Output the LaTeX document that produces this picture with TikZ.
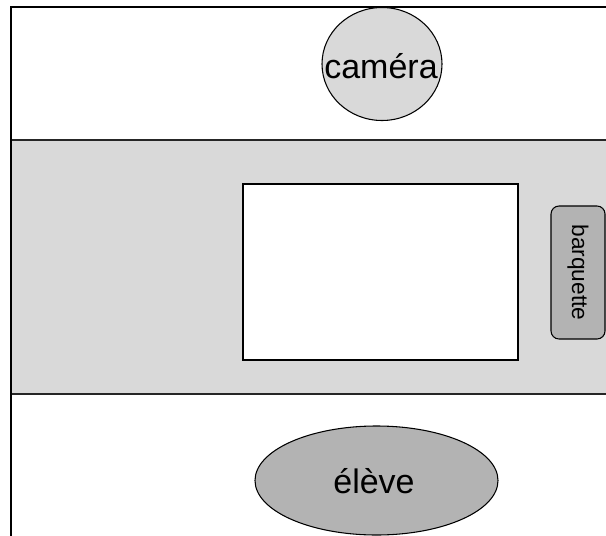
\documentclass[tikz,border=0pt]{standalone}
\usepackage{fontspec}
\setmainfont{Liberation Sans}
\usetikzlibrary{shapes.geometric}
\definecolor{lightg}{HTML}{D9D9D9}
\definecolor{midg}{HTML}{B3B3B3}
\begin{document}
\begin{tikzpicture}[x=0.75pt,y=-0.75pt,
  frameline/.style={line width=1.9pt,black},
  band/.style={fill=lightg,draw=black!85,line width=1.1pt},
  blob/.style={ellipse,draw=black,line width=0.8pt,inner sep=0pt,font=\fontsize{25.5}{28}\selectfont},
  tray/.style={rounded corners=6pt,draw=black,line width=0.8pt,fill=midg,inner sep=0pt,font=\fontsize{17}{19}\selectfont}]
\useasboundingbox (0,0) rectangle (606,535);
% band
\path[band] (11,140) rectangle (608,394);
% white area
\node[draw=black,line width=1.4pt,fill=white,minimum width=275*0.75pt,minimum height=176*0.75pt,inner sep=0pt] (screen) at (380.5,272) {};
% barquette
\node[tray,minimum width=54*0.75pt,minimum height=133*0.75pt] (barq) at (578,272.5) {};
\node[font=\fontsize{17}{19}\selectfont,rotate=-90,inner sep=0pt] (barqt) at (barq.center) {barquette};
% frame
\draw[frameline] (11,536) -- (11,7) -- (607,7);
% camera
\node[blob,fill=lightg,minimum width=120*0.75pt,minimum height=113*0.75pt] (cam) at (382,64) {};
\node[font=\fontsize{25.5}{28}\selectfont,inner sep=0pt] (camt) at (381,66) {caméra};
% eleve
\node[blob,fill=midg,minimum width=243*0.75pt,minimum height=109*0.75pt] (eleve) at (376.5,480.5) {};
\node[font=\fontsize{25.5}{28}\selectfont,inner sep=0pt] (elevet) at (374,481) {élève};
\end{tikzpicture}
\end{document}
